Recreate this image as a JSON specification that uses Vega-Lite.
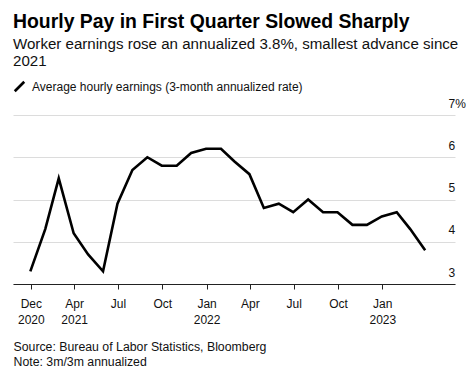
{
  "$schema": "https://vega.github.io/schema/vega-lite/v6.json",
  "width": 442,
  "height": 169,
  "padding": {"left": 13, "top": 11, "right": 0, "bottom": 0},
  "background": "white",
  "config": {
    "font": "Liberation Sans",
    "view": {"stroke": null}
  },
  "title": {
    "text": "Hourly Pay in First Quarter Slowed Sharply",
    "subtitle": ["Worker earnings rose an annualized 3.8%, smallest advance since", "2021"],
    "anchor": "start",
    "frame": "group",
    "font": "Liberation Sans",
    "fontSize": 19.4,
    "fontWeight": "bold",
    "color": "#000000",
    "subtitleFont": "Liberation Sans",
    "subtitleFontSize": 15.1,
    "subtitleColor": "#111111",
    "subtitleLineHeight": 17,
    "subtitlePadding": 5,
    "offset": 10
  },
  "data": {
    "values": [
      {"date": "2020-12-31", "value": 3.3},
      {"date": "2021-01-31", "value": 4.3},
      {"date": "2021-02-28", "value": 5.5},
      {"date": "2021-03-31", "value": 4.2},
      {"date": "2021-04-30", "value": 3.7},
      {"date": "2021-05-31", "value": 3.3},
      {"date": "2021-06-30", "value": 4.9},
      {"date": "2021-07-31", "value": 5.7},
      {"date": "2021-08-31", "value": 6.0},
      {"date": "2021-09-30", "value": 5.8},
      {"date": "2021-10-31", "value": 5.8},
      {"date": "2021-11-30", "value": 6.1},
      {"date": "2021-12-31", "value": 6.2},
      {"date": "2022-01-31", "value": 6.2},
      {"date": "2022-02-28", "value": 5.9},
      {"date": "2022-03-31", "value": 5.6},
      {"date": "2022-04-30", "value": 4.8},
      {"date": "2022-05-31", "value": 4.9},
      {"date": "2022-06-30", "value": 4.7},
      {"date": "2022-07-31", "value": 5.0},
      {"date": "2022-08-31", "value": 4.7},
      {"date": "2022-09-30", "value": 4.7},
      {"date": "2022-10-31", "value": 4.4},
      {"date": "2022-11-30", "value": 4.4},
      {"date": "2022-12-31", "value": 4.6},
      {"date": "2023-01-31", "value": 4.7},
      {"date": "2023-02-28", "value": 4.3},
      {"date": "2023-03-31", "value": 3.8}
    ]
  },
  "mark": {"type": "line", "strokeWidth": 2.6, "strokeJoin": "miter"},
  "encoding": {
    "x": {
      "field": "date",
      "type": "temporal",
      "scale": {
        "type": "utc",
        "domain": [
          {"year": 2020, "month": 11, "date": 25, "utc": true},
          {"year": 2023, "month": 6, "date": 1, "utc": true}
        ]
      },
      "axis": {
        "values": [
          {"year": 2021, "month": 1, "date": 1, "utc": true},
          {"year": 2021, "month": 4, "date": 1, "utc": true},
          {"year": 2021, "month": 7, "date": 1, "utc": true},
          {"year": 2021, "month": 10, "date": 1, "utc": true},
          {"year": 2022, "month": 1, "date": 1, "utc": true},
          {"year": 2022, "month": 4, "date": 1, "utc": true},
          {"year": 2022, "month": 7, "date": 1, "utc": true},
          {"year": 2022, "month": 10, "date": 1, "utc": true},
          {"year": 2023, "month": 1, "date": 1, "utc": true}
        ],
        "labelExpr": "utcmonth(datum.value) == 0 && utcyear(datum.value) == 2021 ? ['Dec', '2020'] : utcmonth(datum.value) == 0 ? ['Jan', utcFormat(datum.value, '%Y')] : (utcmonth(datum.value) == 3 && utcyear(datum.value) == 2021) ? ['Apr', '2021'] : utcFormat(datum.value, '%b')",
        "grid": false,
        "domainColor": "#222222",
        "domainWidth": 1.2,
        "tickColor": "#222222",
        "tickSize": 5,
        "labelFont": "Liberation Sans",
        "labelFontSize": 12,
        "labelColor": "#111111",
        "labelPadding": 9,
        "labelLineHeight": 16.5,
        "labelBaseline": "top",
        "labelFlush": false,
        "labelOverlap": false,
        "title": ["Source: Bureau of Labor Statistics, Bloomberg", "Note: 3m/3m annualized"],
        "titleFont": "Liberation Sans",
        "titleFontSize": 12.3,
        "titleFontWeight": "normal",
        "titleColor": "#111111",
        "titleAnchor": "start",
        "titleAlign": "left",
        "titleLineHeight": 15,
        "titlePadding": 15
      }
    },
    "y": {
      "field": "value",
      "type": "quantitative",
      "scale": {"domain": [3, 7], "nice": false, "zero": false},
      "axis": {
        "orient": "right",
        "values": [3, 4, 5, 6, 7],
        "labelExpr": "datum.value == 7 ? '7%' : datum.label",
        "domain": false,
        "ticks": false,
        "tickSize": 0,
        "grid": true,
        "gridColor": "#dcdcdc",
        "gridWidth": 1,
        "labelAlign": "left",
        "labelBaseline": "alphabetic",
        "labelPadding": -7,
        "labelOffset": -8,
        "labelFont": "Liberation Sans",
        "labelFontSize": 12,
        "labelColor": "#111111",
        "title": null
      }
    },
    "stroke": {
      "datum": "Average hourly earnings (3-month annualized rate)",
      "type": "nominal",
      "scale": {"range": ["#000000"]},
      "legend": {
        "orient": "none",
        "legendX": 0,
        "legendY": -35,
        "title": null,
        "symbolType": "M-1,1L1,-1",
        "symbolSize": 90,
        "symbolStrokeWidth": 2.6,
        "symbolStrokeColor": "#000000",
        "labelFont": "Liberation Sans",
        "labelFontSize": 12,
        "labelColor": "#111111",
        "labelOffset": 6,
        "labelLimit": 0
      }
    }
  }
}
